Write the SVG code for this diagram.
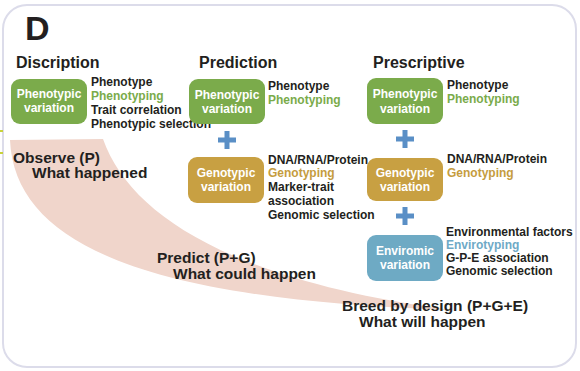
<svg xmlns="http://www.w3.org/2000/svg" width="580" height="371" viewBox="0 0 580 371">
<style>
.t{font-family:"Liberation Sans",Arial,sans-serif;font-weight:bold;fill:#231f20}
.h{font-size:16px}
.s{font-size:12px}
.b{font-size:12px;fill:#fff;text-anchor:middle}
.big{font-size:15.5px}
.gr{fill:#7aab4a}
.go{fill:#c59c3e}
.bl{fill:#6ea9c6}
.plus{stroke:#5a8fc6;stroke-width:5}
</style>
<rect x="3" y="5" width="573" height="362" rx="24" fill="#fff" stroke="#dcdcea" stroke-width="2"/>
<g id="marks" stroke="#c8d23a" stroke-width="2">
<line x1="0" y1="131" x2="3" y2="131"/>
<line x1="0" y1="153" x2="3" y2="153"/>
</g>
<path id="swoosh" d="M10,140 L103,139 C130,215 230,280 450,310 C160,300 15,250 10,140 Z" fill="#f0d5cb"/>
<text class="t" x="25" y="40" font-size="34">D</text>
<g id="headings">
<text class="t h" x="16" y="68">Discription</text>
<text class="t h" x="199" y="68">Prediction</text>
<text class="t h" x="373" y="68">Prescriptive</text>
</g>
<g id="connectors">
<path class="plus" d="M218,140H236M227,131V149"/>
<path class="plus" d="M396,139H414M405,130V148"/>
<path class="plus" d="M396,216H414M405,207V225"/>
</g>
<g id="desc-pheno">
<rect x="11" y="79" width="76" height="45" rx="9" fill="#7bab4b"/>
<text class="t b" x="49" y="98">Phenotypic</text>
<text class="t b" x="49" y="112">variation</text>
<text class="t s" x="91" y="86">Phenotype</text>
<text class="t s gr" x="91" y="100">Phenotyping</text>
<text class="t s" x="91" y="114">Trait correlation</text>
<text class="t s" x="91" y="128">Phenotypic selection</text>
</g>
<g id="pred-pheno">
<rect x="189" y="79" width="76" height="45" rx="9" fill="#7bab4b"/>
<text class="t b" x="227" y="99">Phenotypic</text>
<text class="t b" x="227" y="113">variation</text>
<text class="t s" x="268" y="90">Phenotype</text>
<text class="t s gr" x="268" y="104">Phenotyping</text>
</g>
<g id="pred-geno">
<rect x="188" y="157" width="76" height="46" rx="9" fill="#c8a042"/>
<text class="t b" x="226" y="177">Genotypic</text>
<text class="t b" x="226" y="191">variation</text>
<text class="t s" x="268" y="164">DNA/RNA/Protein</text>
<text class="t s go" x="268" y="177">Genotyping</text>
<text class="t s" x="268" y="191">Marker-trait</text>
<text class="t s" x="268" y="205">association</text>
<text class="t s" x="268" y="219">Genomic selection</text>
</g>
<g id="pres-pheno">
<rect x="367" y="78" width="76" height="46" rx="9" fill="#7bab4b"/>
<text class="t b" x="405" y="98">Phenotypic</text>
<text class="t b" x="405" y="113">variation</text>
<text class="t s" x="447" y="89">Phenotype</text>
<text class="t s gr" x="447" y="103">Phenotyping</text>
</g>
<g id="pres-geno">
<rect x="367" y="158" width="76" height="43" rx="9" fill="#c8a042"/>
<text class="t b" x="405" y="177">Genotypic</text>
<text class="t b" x="405" y="191">variation</text>
<text class="t s" x="447" y="163">DNA/RNA/Protein</text>
<text class="t s go" x="447" y="177">Genotyping</text>
</g>
<g id="pres-enviro">
<rect x="367" y="235" width="76" height="46" rx="9" fill="#6eaac4"/>
<text class="t b" x="405" y="255">Enviromic</text>
<text class="t b" x="405" y="269">variation</text>
<text class="t s" x="446" y="236">Environmental factors</text>
<text class="t s bl" x="446" y="249">Envirotyping</text>
<text class="t s" x="446" y="262">G-P-E association</text>
<text class="t s" x="446" y="275">Genomic selection</text>
</g>
<g id="labels">
<text class="t big" x="13" y="163">Observe (P)</text>
<text class="t big" x="32" y="178">What happened</text>
<text class="t big" x="157" y="263">Predict (P+G)</text>
<text class="t big" x="173" y="279">What could happen</text>
<text class="t big" x="342" y="311">Breed by design (P+G+E)</text>
<text class="t big" x="359" y="327">What will happen</text>
</g>
</svg>
